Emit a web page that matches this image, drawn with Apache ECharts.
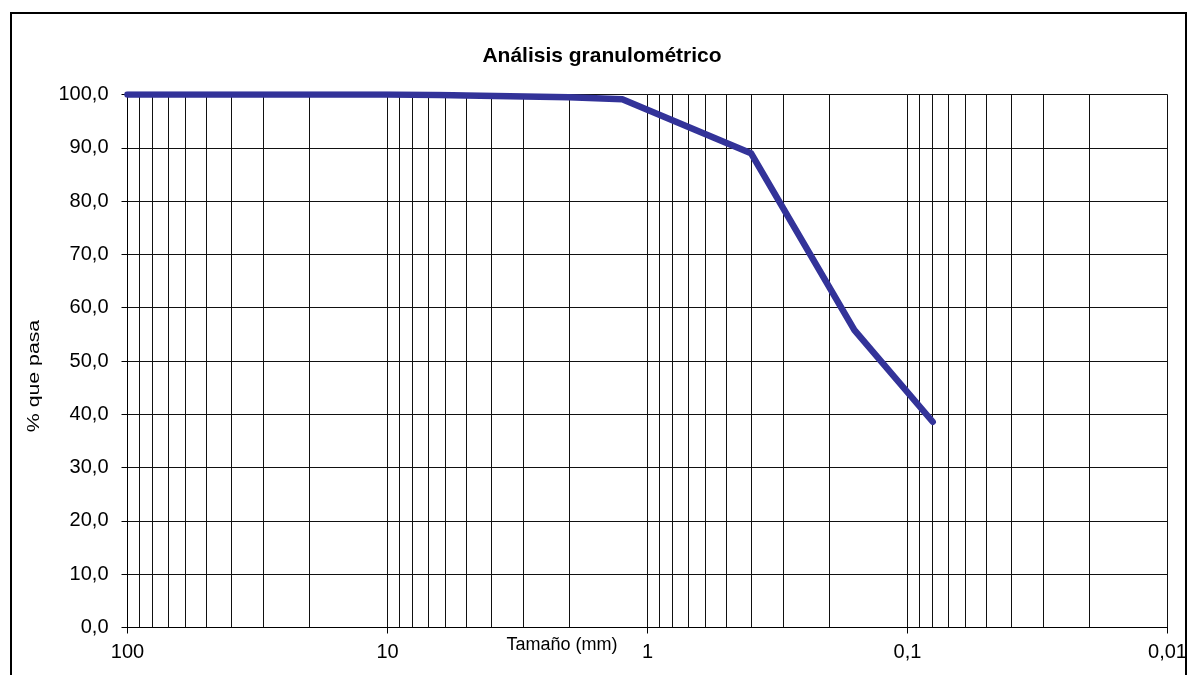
<!DOCTYPE html>
<html>
<head>
<meta charset="utf-8">
<script src="https://cdn.jsdelivr.net/npm/echarts@6/dist/echarts.min.js"></script>
<style>
html,body{margin:0;padding:0;background:#fff;}
#chart{width:1194px;height:675px;}
</style>
</head>
<body>
<div id="chart"></div>
<script>
// Sieve sizes (mm) and percent passing
var sizes = [100, 80, 63, 50, 40, 25, 20, 12.5, 10, 6.3, 5, 2, 1.25, 0.4, 0.16, 0.08];
var passing = [100, 100, 100, 100, 100, 100, 100, 100, 100, 99.9, 99.8, 99.5, 99.1, 89.0, 55.8, 38.6];
// Major x ticks and labels
var xTicks = [100, 10, 1, 0.1, 0.01];
var xTickLabels = ['100', '10', '1', '0,1', '0,01'];
// Minor log grid values
var minorGrid = [90, 80, 70, 60, 50, 40, 30, 20,
                 9, 8, 7, 6, 5, 4, 3, 2,
                 0.9, 0.8, 0.7, 0.6, 0.5, 0.4, 0.3, 0.2,
                 0.09, 0.08, 0.07, 0.06, 0.05, 0.04, 0.03, 0.02];
var titleText = 'Análisis granulométrico';
var xName = 'Tamaño (mm)';
var yName = '% que pasa';

var chart = echarts.init(document.getElementById('chart'), null, {renderer: 'canvas'});
var FONT = '"Liberation Sans", Arial, sans-serif';
var data = sizes.map(function (s, i) { return [s, passing[i]]; });

function fmtX(v) {
  var best = 0, bd = Infinity;
  for (var i = 0; i < xTicks.length; i++) {
    var d = Math.abs(Math.log10(v) - Math.log10(xTicks[i]));
    if (d < bd) { bd = d; best = i; }
  }
  return bd < 1e-6 ? xTickLabels[best] : '';
}

chart.setOption({
  animation: false,
  backgroundColor: '#fff',
  title: {
    text: titleText,
    left: 597, top: 41, textAlign: 'center',
    textStyle: {fontFamily: FONT, fontSize: 21, fontWeight: 'bold', color: '#000'}
  },
  grid: {left: 127.5, right: 26.5, top: 94.5, bottom: 47.5},
  xAxis: {
    type: 'log', logBase: 10, min: 0.01, max: 100, inverse: true,
    axisLine: {show: true, lineStyle: {color: '#000', width: 1}},
    axisTick: {show: true, length: 6, lineStyle: {color: '#000'}},
    axisLabel: {fontFamily: FONT, fontSize: 20, color: '#000', margin: 15, formatter: fmtX},
    splitLine: {show: true, lineStyle: {color: '#111', width: 1}}
  },
  yAxis: {
    type: 'value', min: 0, max: 100, interval: 10,
    axisLine: {show: true, lineStyle: {color: '#000', width: 1}},
    axisTick: {show: true, length: 6, lineStyle: {color: '#000'}},
    axisLabel: {fontFamily: FONT, fontSize: 20, color: '#000', margin: 19,
      formatter: function (v) { return v.toFixed(1).replace('.', ','); }},
    splitLine: {show: true, lineStyle: {color: '#111', width: 1}}
  },
  graphic: [
    {type: 'rect', shape: {x: 11, y: 13, width: 1175, height: 720},
     style: {fill: 'none', stroke: '#000', lineWidth: 2}, silent: true, z: 100},
    {type: 'text', x: 35, y: 376, rotation: Math.PI / 2, scaleX: 1.33, scaleY: 1,
     style: {text: yName, font: '16px ' + FONT, fill: '#000', textAlign: 'center', textVerticalAlign: 'middle'}},
    {type: 'text', x: 562, y: 645,
     style: {text: xName, font: '18px ' + FONT, fill: '#000', textAlign: 'center', textVerticalAlign: 'middle'}}
  ],
  series: [
    {
      type: 'line',
      data: [],
      silent: true,
      markLine: {
        silent: true, symbol: 'none', animation: false,
        label: {show: false},
        lineStyle: {color: '#111', width: 1, type: 'solid'},
        data: minorGrid.map(function (v) { return {xAxis: v}; })
      }
    },
    {
      type: 'line',
      data: data,
      showSymbol: false,
      symbol: 'none',
      lineStyle: {color: '#333399', width: 6.5, cap: 'round', join: 'round'},
      z: 10
    }
  ]
});
</script>
</body>
</html>
